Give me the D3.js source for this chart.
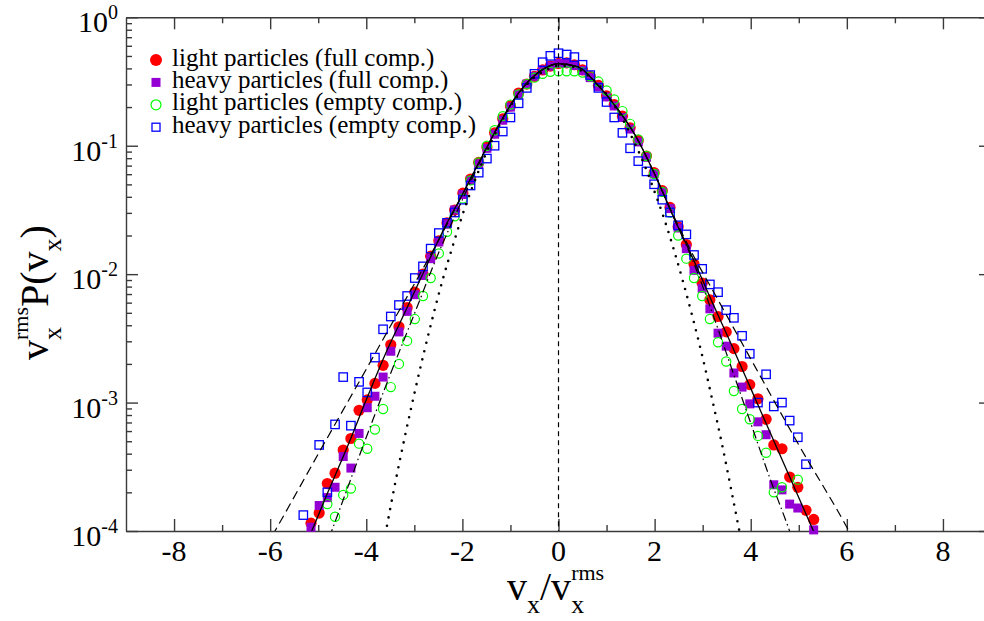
<!DOCTYPE html>
<html>
<head>
<meta charset="utf-8">
<script src="https://cdn.jsdelivr.net/npm/d3@7"></script>
<style>
  html, body { margin: 0; padding: 0; background: #ffffff; }
  svg { display: block; }
  svg text { font-family: "Liberation Serif", "DejaVu Serif", serif; }
</style>
</head>
<body>
<svg id="chart" width="984" height="621" font-family="Liberation Serif, DejaVu Serif, serif"></svg>
<script>
// Bin centres of the velocity histograms, in units of v_x / v_x^rms
const binCenters = [-5.31,-5.15,-4.98,-4.81,-4.65,-4.48,-4.32,-4.15,-3.98,-3.82,-3.65,-3.49,-3.32,-3.15,-2.99,-2.82,
  -2.66,-2.49,-2.32,-2.16,-1.99,-1.83,-1.66,-1.49,-1.33,-1.16,-1.00,-0.83,-0.66,-0.50,-0.33,-0.17,0.00,
  0.17,0.33,0.50,0.66,0.83,1.00,1.16,1.33,1.49,1.66,1.83,1.99,2.16,2.32,2.49,2.66,2.82,2.99,3.15,3.32,
  3.49,3.65,3.82,3.98,4.15,4.32,4.48,4.65,4.81,4.98,5.15,5.31];

// v_x^rms P(v_x) for each particle class (null = empty bin)
const lightFull = [null,1.15e-4,1.38e-4,2.34e-4,2.82e-4,4.27e-4,5.25e-4,8.71e-4,1.05e-3,1.41e-3,1.95e-3,2.82e-3,3.89e-3,5.50e-3,7.24e-3,1.00e-2,
  1.38e-2,1.82e-2,2.51e-2,3.16e-2,4.27e-2,5.50e-2,7.41e-2,9.77e-2,0.126,0.162,0.204,0.257,0.302,0.347,0.389,0.417,0.437,
  0.442,0.427,0.389,0.347,0.295,0.245,0.209,0.170,0.138,0.110,8.32e-2,6.17e-2,4.47e-2,3.31e-2,2.34e-2,1.70e-2,1.20e-2,8.51e-3,6.31e-3,4.68e-3,
  3.55e-3,2.63e-3,1.91e-3,1.38e-3,1.07e-3,7.41e-4,4.68e-4,4.37e-4,2.63e-4,2.19e-4,1.45e-4,1.23e-4];

const heavyFull = [null,1.07e-4,1.58e-4,1.82e-4,2.19e-4,3.80e-4,3.09e-4,5.75e-4,9.12e-4,1.12e-3,1.58e-3,2.51e-3,3.55e-3,5.13e-3,6.92e-3,9.77e-3,
  1.32e-2,1.78e-2,2.45e-2,3.16e-2,4.17e-2,5.37e-2,7.24e-2,9.55e-2,0.123,0.158,0.200,0.251,0.302,0.347,0.389,0.417,0.437,
  0.437,0.422,0.385,0.339,0.288,0.240,0.204,0.166,0.135,0.107,8.13e-2,6.03e-2,4.37e-2,3.24e-2,2.29e-2,1.58e-2,1.07e-2,7.76e-3,5.37e-3,3.47e-3,
  2.75e-3,1.70e-3,1.32e-3,9.77e-4,7.08e-4,5.62e-4,2.29e-4,2.09e-4,1.62e-4,1.51e-4,null,1.02e-4];

const lightEmpty = [null,null,null,1.62e-4,1.29e-4,1.91e-4,2.14e-4,4.79e-4,4.37e-4,6.17e-4,8.91e-4,1.32e-3,2.00e-3,3.02e-3,4.47e-3,6.76e-3,
  9.33e-3,1.45e-2,2.14e-2,2.82e-2,3.89e-2,5.37e-2,7.41e-2,0.100,0.132,0.170,0.209,0.251,0.302,0.339,0.363,0.376,0.380,
  0.380,0.380,0.372,0.347,0.316,0.269,0.229,0.186,0.148,0.112,8.32e-2,6.03e-2,4.37e-2,3.02e-2,2.00e-2,1.32e-2,9.33e-3,6.76e-3,4.47e-3,2.95e-3,
  2.09e-3,1.23e-3,8.91e-4,7.41e-4,5.50e-4,4.07e-4,2.00e-4,2.19e-4,null,2.51e-4,null,null];

const heavyEmpty = [1.33e-4,null,4.68e-4,2.00e-4,6.76e-4,1.58e-3,6.61e-4,1.45e-3,1.20e-3,2.24e-3,3.72e-3,4.68e-3,5.75e-3,6.76e-3,9.33e-3,1.15e-2,
  1.58e-2,2.09e-2,2.51e-2,3.02e-2,3.80e-2,4.90e-2,6.17e-2,7.94e-2,0.100,0.129,0.166,0.214,0.282,0.363,0.447,0.501,0.525,
  0.513,0.490,0.427,0.355,0.282,0.219,0.166,0.126,9.55e-2,7.59e-2,6.31e-2,5.01e-2,3.80e-2,3.02e-2,2.40e-2,2.04e-2,1.41e-2,1.10e-2,8.32e-3,7.24e-3,
  5.25e-3,4.57e-3,3.31e-3,2.40e-3,1.00e-3,1.66e-3,9.33e-4,1.00e-3,7.24e-4,5.37e-4,3.31e-4,null];

// Fitted curves, [v_x / v_x^rms, v_x^rms P(v_x)]
const fitSolid = [[-5.3,7.08e-5],[-4.8,2.00e-4],[-4.4,4.47e-4],[-4.0,1.05e-3],[-3.6,2.40e-3],[-3.2,5.01e-3],[-2.8,1.05e-2],
  [-2.4,2.19e-2],[-2.0,4.17e-2],[-1.6,8.13e-2],[-1.2,0.155],[-0.8,0.266],[-0.4,0.376],[0.0,0.435],[0.4,0.412],[0.8,0.302],
  [1.2,0.200],[1.6,0.120],[2.0,6.03e-2],[2.4,2.75e-2],[2.8,1.32e-2],[3.2,6.03e-3],[3.6,2.82e-3],[4.0,1.29e-3],[4.4,5.89e-4],
  [4.8,2.69e-4],[5.2,1.23e-4],[5.4,8.32e-5]];

const fitDashed = [[-6.1,7.41e-5],[-5.9,1.00e-4],[-5.0,3.98e-4],[-4.0,1.82e-3],[-3.4,4.57e-3],[-2.9,9.77e-3],[-2.4,2.14e-2],
  [-2.0,4.17e-2],[-1.6,8.13e-2],[-1.2,0.155],[-0.8,0.266],[-0.4,0.376],[0.0,0.435],[0.4,0.412],[0.8,0.302],[1.2,0.200],
  [1.6,0.120],[2.0,6.03e-2],[2.4,2.82e-2],[2.8,1.41e-2],[3.2,7.59e-3],[4.0,2.19e-3],[5.0,4.68e-4],[6.0,1.07e-4],[6.2,7.76e-5]];

const fitDashDot = [[-4.9,6.61e-5],[-4.72,1.00e-4],[-4.0,5.37e-4],[-3.5,1.66e-3],[-3.0,4.90e-3],[-2.5,1.45e-2],[-2.0,3.80e-2],
  [-1.6,7.94e-2],[-1.2,0.155],[-0.8,0.266],[-0.4,0.376],[0.0,0.435],[0.4,0.412],[0.8,0.302],[1.2,0.200],[1.6,0.120],
  [2.0,6.03e-2],[2.4,2.75e-2],[2.8,1.26e-2],[3.2,5.01e-3],[3.6,1.86e-3],[4.0,6.92e-4],[4.4,2.57e-4],[4.8,1.02e-4],[4.9,7.94e-5]];

const gaussDotted = [[-3.7,6.03e-5],[-3.6,9.55e-5],[-3.4,2.34e-4],[-3.2,5.37e-4],[-3.0,1.17e-3],[-2.8,2.45e-3],[-2.6,4.90e-3],
  [-2.4,9.33e-3],[-2.2,1.66e-2],[-2.0,2.88e-2],[-1.8,4.68e-2],[-1.6,7.24e-2],[-1.4,0.107],[-1.2,0.151],[-1.0,0.204],
  [-0.8,0.257],[-0.6,0.316],[-0.4,0.363],[-0.2,0.398],[0.0,0.419],[0.2,0.417],[0.4,0.398],[0.6,0.355],[0.8,0.309],
  [1.0,0.251],[1.2,0.195],[1.4,0.145],[1.6,0.102],[1.8,6.92e-2],[2.0,4.37e-2],[2.2,2.69e-2],[2.4,1.55e-2],[2.6,8.51e-3],
  [2.8,4.47e-3],[3.0,2.24e-3],[3.2,1.05e-3],[3.4,4.79e-4],[3.6,2.04e-4],[3.8,8.51e-5]];

const xMajorTicks = [-8, -6, -4, -2, 0, 2, 4, 6, 8];
const xMinorTicks = [-7, -5, -3, -1, 1, 3, 5, 7];
const yDecades = [1, 1e-1, 1e-2, 1e-3, 1e-4];
const yExponentLabels = ["0", "-1", "-2", "-3", "-4"];
const legendLabels = [
  "light particles (full comp.)",
  "heavy particles (full comp.)",
  "light particles (empty comp.)",
  "heavy particles (empty comp.)"
];

// ---------------------------------------------------------------------------
const FONT = "Liberation Serif, DejaVu Serif, serif";
const plot = { left: 126, right: 991, top: 17.3, bottom: 531 };
const x = d3.scaleLinear().domain([-9, 9]).range([plot.left, plot.right]);
const y = d3.scaleLog().domain([1e-4, 1]).range([plot.bottom, plot.top]);

const svg = d3.select("#chart");
const axisColor = "#3a3a3a";

svg.append("defs").append("clipPath").attr("id", "plotClip")
  .append("rect")
  .attr("x", plot.left).attr("y", plot.top)
  .attr("width", plot.right - plot.left).attr("height", plot.bottom - plot.top);

// minor y ticks: 2..9 within each decade
const yMinorTicks = [];
yDecades.slice(1).forEach(d => { for (let m = 2; m <= 9; m++) yMinorTicks.push(d * m); });

function styleAxis(g, keepDomain) {
  g.selectAll("text").remove();
  if (!keepDomain) g.select(".domain").remove();
  g.selectAll("path, line").attr("stroke", axisColor).attr("stroke-width", 1.4);
}

// bottom / top frame with inward ticks
[["bottom", plot.bottom, d3.axisBottom], ["top", plot.top, d3.axisTop]].forEach(([name, pos, maker]) => {
  svg.append("g").attr("class", "x-major-" + name).attr("transform", `translate(0,${pos})`)
    .call(maker(x).tickValues(xMajorTicks).tickSize(-12).tickSizeOuter(0).tickFormat(""))
    .call(g => styleAxis(g, true));
  svg.append("g").attr("class", "x-minor-" + name).attr("transform", `translate(0,${pos})`)
    .call(maker(x).tickValues(xMinorTicks).tickSize(-6).tickSizeOuter(0).tickFormat(""))
    .call(g => styleAxis(g, false));
});

// left / right frame with inward ticks
[["left", plot.left, d3.axisLeft], ["right", plot.right, d3.axisRight]].forEach(([name, pos, maker]) => {
  svg.append("g").attr("class", "y-major-" + name).attr("transform", `translate(${pos},0)`)
    .call(maker(y).tickValues(yDecades).tickSize(-12).tickSizeOuter(0).tickFormat(""))
    .call(g => styleAxis(g, true));
  svg.append("g").attr("class", "y-minor-" + name).attr("transform", `translate(${pos},0)`)
    .call(maker(y).tickValues(yMinorTicks).tickSize(-6).tickSizeOuter(0).tickFormat(""))
    .call(g => styleAxis(g, false));
});

// x tick labels
svg.append("g").attr("class", "x-labels")
  .selectAll("text").data(xMajorTicks).join("text")
  .attr("x", d => x(d)).attr("y", 561)
  .attr("text-anchor", "middle").attr("font-size", 30).attr("font-family", FONT).attr("fill", "#000")
  .text(d => String(d));

// y tick labels: 10^n
const yl = svg.append("g").attr("class", "y-labels");
yDecades.forEach((v, i) => {
  const t = yl.append("text")
    .attr("x", 118).attr("y", y(v) + 15)
    .attr("text-anchor", "end").attr("font-size", 30).attr("font-family", FONT).attr("fill", "#000");
  t.append("tspan").text("10");
  t.append("tspan").attr("dy", -13).attr("font-size", 20).text(yExponentLabels[i]);
});

// data markers
const series = [
  { values: lightFull,  shape: "circle", fill: "#ff0000", stroke: "none",    size: 5.6 },
  { values: heavyFull,  shape: "square", fill: "#9400d3", stroke: "none",    size: 9 },
  { values: lightEmpty, shape: "circle", fill: "none",    stroke: "#00ff00", size: 4.6 },
  { values: heavyEmpty, shape: "square", fill: "none",    stroke: "#0000ff", size: 8.4 }
];

function drawMarker(g, shape, cx, cy, s, fill, stroke) {
  if (shape === "circle") {
    g.append("circle").attr("cx", cx).attr("cy", cy).attr("r", s)
      .attr("fill", fill).attr("stroke", stroke).attr("stroke-width", 1.2);
  } else {
    g.append("rect").attr("x", cx - s / 2).attr("y", cy - s / 2)
      .attr("width", s).attr("height", s)
      .attr("fill", fill).attr("stroke", stroke).attr("stroke-width", 1.3);
  }
}

const markerLayer = svg.append("g").attr("class", "markers");
series.forEach(sr => {
  const g = markerLayer.append("g");
  binCenters.forEach((bx, i) => {
    const v = sr.values[i];
    if (v == null) return;
    drawMarker(g, sr.shape, x(bx), y(v), sr.size, sr.fill, sr.stroke);
  });
});

// curves
const line = d3.line().x(d => x(d[0])).y(d => y(d[1])).curve(d3.curveMonotoneX);
const curveLayer = svg.append("g").attr("clip-path", "url(#plotClip)");

curveLayer.append("line")
  .attr("x1", x(0)).attr("x2", x(0)).attr("y1", plot.top).attr("y2", plot.bottom)
  .attr("stroke", "#000").attr("stroke-width", 1.2).attr("stroke-dasharray", "5,4");

curveLayer.append("path").datum(gaussDotted).attr("d", line)
  .attr("fill", "none").attr("stroke", "#000").attr("stroke-width", 2.6)
  .attr("stroke-linecap", "round").attr("stroke-dasharray", "0,8.5");

curveLayer.append("path").datum(fitDashed).attr("d", line)
  .attr("fill", "none").attr("stroke", "#000").attr("stroke-width", 1.2)
  .attr("stroke-dasharray", "9,5");

curveLayer.append("path").datum(fitDashDot).attr("d", line)
  .attr("fill", "none").attr("stroke", "#000").attr("stroke-width", 1.2)
  .attr("stroke-dasharray", "9,3.5,1.5,3.5");

curveLayer.append("path").datum(fitSolid).attr("d", line)
  .attr("fill", "none").attr("stroke", "#000").attr("stroke-width", 1.3);

// legend
const legend = svg.append("g").attr("class", "legend");
const legendRowY = [60, 82.4, 104.8, 127.2];
const legendSizes = [6, 9, 5, 8];
series.forEach((sr, i) => {
  drawMarker(legend, sr.shape, 156, legendRowY[i], legendSizes[i], sr.fill, sr.stroke);
  legend.append("text").attr("x", 172).attr("y", legendRowY[i] + 5.5)
    .attr("font-size", 25).attr("font-family", FONT).attr("fill", "#000").text(legendLabels[i]);
});

// x axis title: v_x / v_x^rms
const xt = svg.append("text").attr("x", 507).attr("y", 600)
  .attr("font-size", 40).attr("font-family", FONT).attr("fill", "#000");
xt.append("tspan").text("v");
xt.append("tspan").attr("font-size", 26).attr("dy", 13).text("x");
xt.append("tspan").attr("dy", -13).text("/v");
xt.append("tspan").attr("font-size", 26).attr("dy", 13).text("x");
xt.append("tspan").attr("font-size", 22).attr("dx", -13).attr("dy", -33).text("rms");

// y axis title: v_x^rms P(v_x)
const yt = svg.append("text").attr("transform", "translate(48,360) rotate(-90)")
  .attr("x", 0).attr("y", 0).attr("font-size", 40).attr("font-family", FONT).attr("fill", "#000");
yt.append("tspan").text("v");
yt.append("tspan").attr("font-size", 26).attr("dy", 13).text("x");
yt.append("tspan").attr("font-size", 22).attr("dx", -13).attr("dy", -33).text("rms");
yt.append("tspan").attr("dy", 20).text("P(v");
yt.append("tspan").attr("font-size", 26).attr("dy", 13).text("x");
yt.append("tspan").attr("dy", -13).text(")");
</script>
</body>
</html>
